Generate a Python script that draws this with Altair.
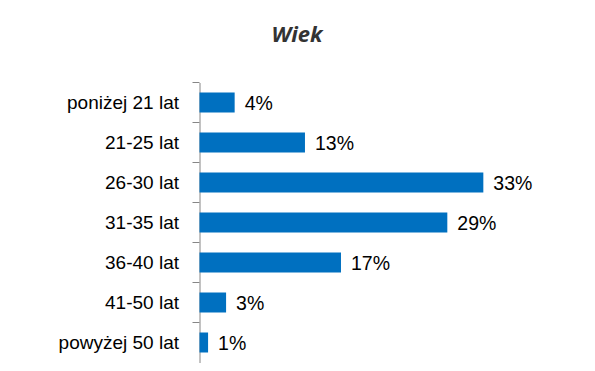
import altair as alt
import pandas as pd

categories = ["poniżej 21 lat", "21-25 lat", "26-30 lat", "31-35 lat", "36-40 lat", "41-50 lat", "powyżej 50 lat"]
values = [4.1, 12.3, 33.1, 28.9, 16.5, 3.1, 1.0]
labels = ["4%", "13%", "33%", "29%", "17%", "3%", "1%"]

df = pd.DataFrame({"cat": categories, "val": values, "lab": labels})

y = alt.Y("cat:N", sort=categories, title=None,
          scale=alt.Scale(paddingInner=0.5, paddingOuter=0.25),
          axis=alt.Axis(ticks=False, tickSize=0, labelPadding=21, labelFont="Liberation Sans",
                        labelFontSize=19, labelColor="#000000", domainColor="#868686",
                        domainWidth=1, labelLimit=300))
x = alt.X("val:Q", title=None, scale=alt.Scale(domain=[0, 40], nice=False), axis=None)

base = alt.Chart(df)
bars = base.mark_bar(color="#0070C0").encode(x=x, y=y)
text = base.mark_text(align="left", baseline="middle", dx=10, dy=1, font="Liberation Sans",
                      fontSize=19.5, color="#000000").encode(x=x, y=alt.Y("cat:N", sort=categories), text="lab:N")
ticks = base.mark_rule(color="#868686", strokeWidth=1, yOffset=-20).encode(
    y=alt.Y("cat:N", sort=categories), x=alt.value(-7), x2=alt.value(0))

chart = alt.layer(bars, text, ticks).properties(
    width=343, height=280,
    title=alt.Title("Wiek", font="Open Sans", fontSize=22, fontStyle="italic", fontWeight="bold",
                    color="#333333", anchor="middle", frame="group", dx=-74, offset=18,
                    baseline="alphabetic"),
    autosize=alt.AutoSizeParams(type="none"),
    padding={"left": 191.5, "top": 74.5, "right": 44, "bottom": 0},
).configure_view(stroke=None)

chart.save("out.html", embed_options={"renderer": "svg", "actions": False})
